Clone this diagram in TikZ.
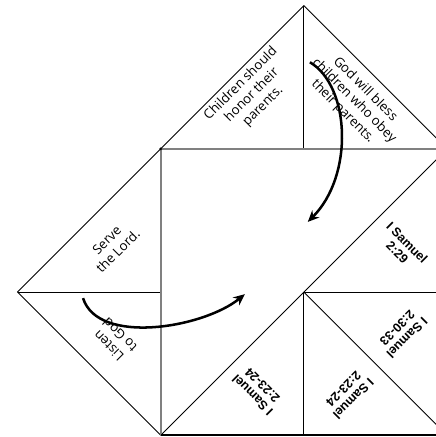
\documentclass[tikz,border=0pt]{standalone}
\usepackage{fontspec}
\setmainfont{Open Sans}
\newfontfamily\refbold{Liberation Sans}
\usetikzlibrary{arrows.meta}

\tikzset{
  aba/.style={draw=black, line width=0.7pt},
  borda/.style={draw=gray, line width=1.5pt},
  seta/.style={line width=2pt, -{Stealth[length=9pt,width=8pt]}},
  frase/.style={font=\fontsize{10.5}{12.5}\selectfont, align=center},
  versiculo/.style={font=\refbold\bfseries\fontsize{10}{11}\selectfont, align=center},
}

\begin{document}
\begin{tikzpicture}
    \useasboundingbox (-8.49,-4.05) rectangle (3.69,8.16);
    \clip (-8.49,-4.05) rectangle (3.69,8.16);

    % Abas
    \draw[aba] (-8,0) -- (0,8) -- (4,4);
    \draw[aba] (0,8) -- (0,4);
    \draw[aba] (-8,0) -- (-4,-4);
    \draw[aba] (-8,0) -- (-4,0);

    % Dobras
    \draw[aba] (-4,-4) -- (4,4);
    \draw[aba] (0,0) -- (4,0);
    \draw[aba] (0,0) -- (0,-4);
    \draw[aba] (0,0) -- (4,-4);

    % Quadrado
    \draw[borda] (4,4) -- (-4,4) -- (-4,-4);
    \draw[line width=1.5pt] (-4,-4) -- (4,-4);
    \fill (-4,4) circle (1.2pt);

    % Frases
    \node[frase, rotate=45] (honrar) at (-1.45,5.5) {Children should\\honor their\\parents.};
    \node[frase, rotate=-45] (abencoar) at (1.4,5.35) {God will bless\\children who obey\\their parents.};
    \node[frase, rotate=45] (servir) at (-5.35,1.3) {Serve\\the Lord.};
    \node[frase, rotate=135] (ouvir) at (-5.3,-1.35) {Listen\\to God};

    % Versiculos
    \node[versiculo, rotate=135] (samA) at (-1.3,-2.75) {I Samuel\\2:23-24};
    \node[versiculo, rotate=225] (samB) at (1.25,-2.85) {I Samuel\\2:23-24};
    \node[versiculo, rotate=225] (samC) at (2.75,-1.15) {I Samuel\\2:30-33};
    \node[versiculo, rotate=-45] (samD) at (2.75,1.25) {I Samuel\\2:29};

    % Setas
    \coordinate (a1) at (0.17,6.42);
    \coordinate (b1) at (0.11,1.96);
    \draw[seta] (a1) .. controls (1.3,5.75) and (1.4,3.25) .. (b1);
    \coordinate (a2) at (-6.17,-0.17);
    \coordinate (b2) at (-1.65,-0.06);
    \draw[seta] (a2) .. controls (-5.75,-1.5) and (-2.8,-1.0) .. (b2);
\end{tikzpicture}
\end{document}
